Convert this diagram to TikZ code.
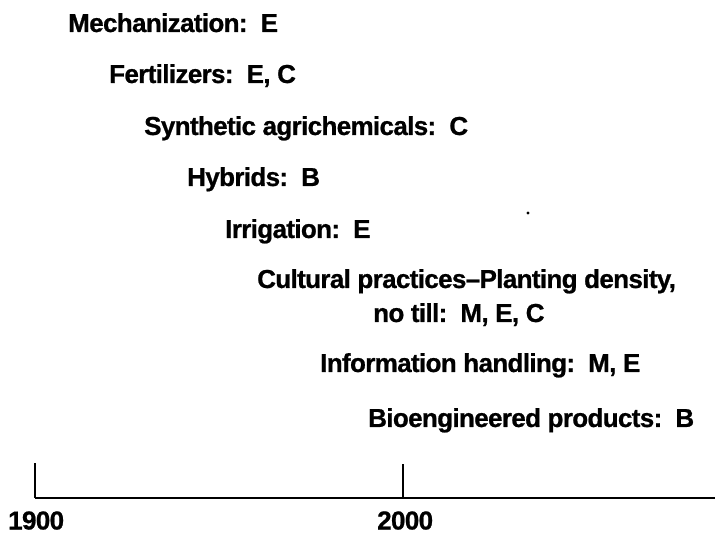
\documentclass[tikz,border=0pt]{standalone}
\usepackage{fontspec}
\setmainfont{Liberation Sans}[LetterSpace=-2.5,BoldFeatures={FakeBold=0.8}]
\begin{document}
\begin{tikzpicture}[x=1pt,y=-1pt,
  lbl/.style={anchor=base west,inner sep=0pt,font=\fontsize{26}{30}\selectfont\bfseries},
  axisline/.style={line width=2.6pt},
  tickline/.style={line width=1.6pt}]
\useasboundingbox (0,0) rectangle (715,534);
\node[lbl] (mech) at (68,32) {Mechanization:~\ E};
\node[lbl] (fert) at (109,83) {Fertilizers:~\ E, C};
\node[lbl] (synth) at (144,135) {Synthetic agrichemicals:~\ C};
\node[lbl] (hyb) at (187,186) {Hybrids:~\ B};
\node[lbl] (irr) at (225,238) {Irrigation:~\ E};
\node[lbl] (cult) at (257,288) {Cultural practices–Planting density,};
\node[lbl] (till) at (373,322) {no till:~\ M, E, C};
\node[lbl] (info) at (320,372) {Information handling:~\ M, E};
\node[lbl] (bio) at (368,427) {Bioengineered products:~\ B};
\fill (528,213) circle (1.6);
\coordinate (a0) at (35,498);
\coordinate (a1) at (715,498);
\coordinate (t1) at (35,463);
\coordinate (t2) at (403,464);
\coordinate (b2) at (403,498);
\draw[axisline] (a0) -- (a1);
\draw[tickline] (t1) -- (a0);
\draw[tickline] (t2) -- (b2);
\node[lbl] (y1900) at (8,529.5) {1900};
\node[lbl] (y2000) at (377,529.5) {2000};
\end{tikzpicture}
\end{document}
